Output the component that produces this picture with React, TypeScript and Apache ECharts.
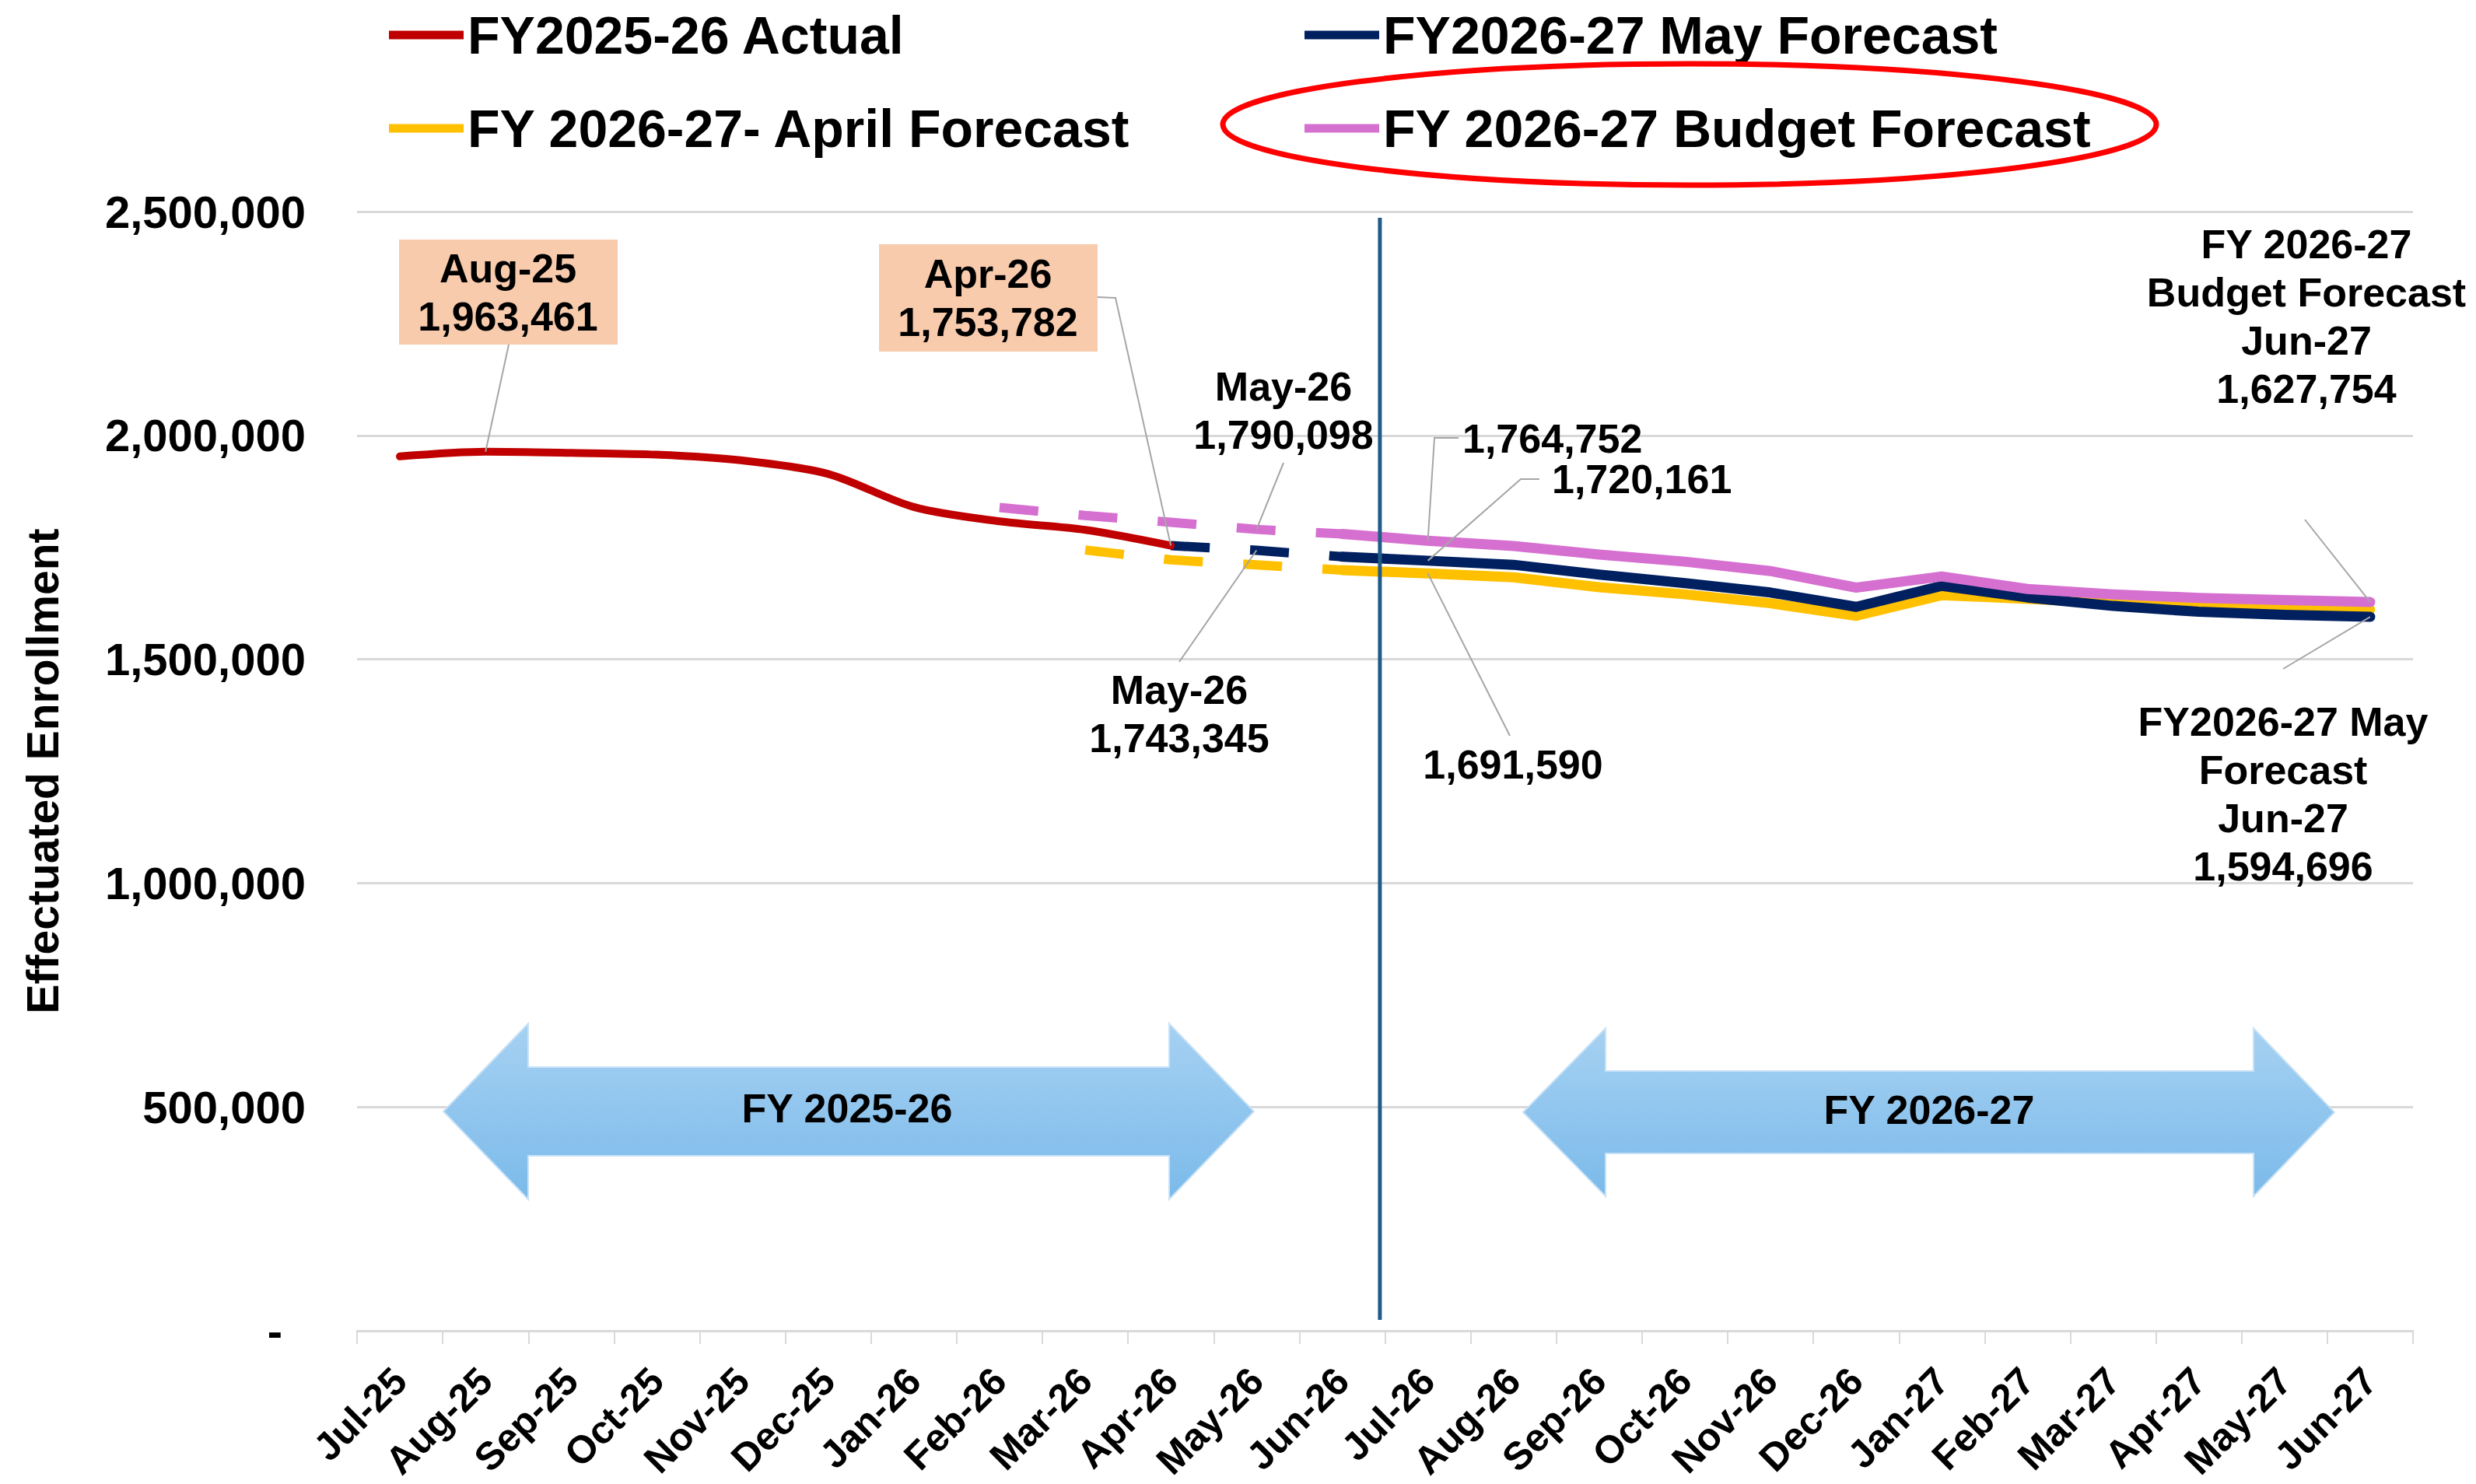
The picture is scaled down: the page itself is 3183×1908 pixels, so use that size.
import React, { useEffect, useRef } from "react";
import * as echarts from "echarts";

const FONT = '"Liberation Sans", Arial, Helvetica, sans-serif';

const categories = [
  "Jul-25", "Aug-25", "Sep-25", "Oct-25", "Nov-25", "Dec-25", "Jan-26", "Feb-26",
  "Mar-26", "Apr-26", "May-26", "Jun-26", "Jul-26", "Aug-26", "Sep-26", "Oct-26",
  "Nov-26", "Dec-26", "Jan-27", "Feb-27", "Mar-27", "Apr-27", "May-27", "Jun-27",
];

const actual = [
  1953000, 1963461, 1961000, 1957000, 1944000, 1914000, 1840000, 1808000,
  1789000, 1753782, null, null, null, null, null, null,
  null, null, null, null, null, null, null, null,
];

const april = [
  null, null, null, null, null, null, null, null,
  1744000, 1722000, 1711000, 1699000, 1691590, 1683000, 1661000, 1645000,
  1625000, 1597000, 1643000, 1635000, 1626000, 1620000, 1615000, 1611000,
];

const may = [
  null, null, null, null, null, null, null, null,
  null, 1753782, 1743345, 1729000, 1720161, 1711000, 1689000, 1670000,
  1649000, 1617000, 1664000, 1638000, 1619000, 1606000, 1599000, 1594696,
];

const budget = [
  null, null, null, null, null, null, null, 1839000,
  1821000, 1806000, 1790098, 1780000, 1764752, 1753000, 1734000, 1718000,
  1697000, 1660000, 1685000, 1657000, 1645000, 1637000, 1632000, 1627754,
];

const yTicks = [0, 500000, 1000000, 1500000, 2000000, 2500000];

const SPLIT = 11; // Jun-26: last projected month, first solid point
const ACT = "FY2025-26 Actual";
const MAYN = "FY2026-27 May Forecast";
const APRN = "FY 2026-27- April Forecast";
const BUDN = "FY 2026-27 Budget Forecast";

const fmt = (v: number) => v.toLocaleString("en-US");
const before = (arr: (number | null)[]) => arr.map((v, i) => (i <= SPLIT ? v : null));
const after = (arr: (number | null)[]) => arr.map((v, i) => (i >= SPLIT ? v : null));

export default function App() {
  const ref = useRef<HTMLDivElement>(null);

  useEffect(() => {
    if (!ref.current) return;
    const chart = echarts.init(ref.current, null, { renderer: "svg" });

    const dashed = (name: string, data: any[], color: string) => ({
      name,
      type: "line",
      data,
      symbol: "none",
      connectNulls: false,
      z: 3,
      itemStyle: { color },
      lineStyle: { color, width: 12, type: [50, 52], cap: "butt" },
    });
    const solid = (name: string, data: any[], color: string) => ({
      name,
      type: "line",
      data,
      symbol: "none",
      connectNulls: false,
      z: 3,
      itemStyle: { color },
      lineStyle: { color, width: 13, cap: "round", join: "round" },
    });

    const legendCommon = {
      orient: "vertical",
      top: 6,
      itemWidth: 96,
      itemHeight: 11,
      itemGap: 52,
      icon: "rect",
      selectedMode: false,
      textStyle: { fontSize: 68, fontWeight: "bold", fontFamily: FONT, color: "#000", lineHeight: 66 },
    };

    chart.setOption({
      animation: false,
      backgroundColor: "#ffffff",
      textStyle: { fontFamily: FONT },
      legend: [
        { ...legendCommon, left: 495, data: [ACT, APRN] },
        { ...legendCommon, left: 1672, data: [MAYN, BUDN] },
      ],
      grid: { left: 459, right: 81, top: 272, bottom: 197, containLabel: false },
      xAxis: {
        type: "category",
        data: categories,
        boundaryGap: true,
        axisLine: { show: true, lineStyle: { color: "#D9D9D9", width: 3 } },
        axisTick: { show: true, length: 17, lineStyle: { color: "#D9D9D9", width: 2 } },
        axisLabel: {
          interval: 0,
          rotate: 45,
          margin: 56,
          fontSize: 50,
          fontWeight: "bold",
          fontFamily: FONT,
          color: "#000",
        },
      },
      yAxis: {
        type: "value",
        min: yTicks[0],
        max: yTicks[yTicks.length - 1],
        interval: 500000,
        name: "Effectuated Enrollment",
        nameLocation: "middle",
        nameRotate: 90,
        nameGap: 376,
        nameTextStyle: { fontSize: 57, fontWeight: "bold", fontFamily: FONT, color: "#000" },
        axisLine: { show: false },
        axisTick: { show: false },
        splitLine: { lineStyle: { color: "#D9D9D9", width: 3 } },
        axisLabel: {
          margin: 66,
          fontSize: 58,
          fontWeight: "bold",
          fontFamily: FONT,
          color: "#000",
          formatter: (v: number) => (v === 0 ? "{z|-}" : fmt(v)),
          rich: {
            z: { fontSize: 58, fontWeight: "bold", fontFamily: FONT, color: "#000", padding: [0, 30, 0, 0] },
          },
        },
      },
      series: [
        {
          name: ACT,
          type: "line",
          data: actual,
          symbol: "none",
          smooth: 0.3,
          z: 4,
          itemStyle: { color: "#C00000" },
          lineStyle: { color: "#C00000", width: 10, cap: "round" },
        },
        dashed(APRN + " projected", before(april), "#FFC000"),
        solid(APRN, after(april), "#FFC000"),
        dashed(MAYN + " projected", before(may), "#002060"),
        solid(MAYN, after(may), "#002060"),
        dashed(BUDN + " projected", before(budget), "#D670D0"),
        solid(BUDN, after(budget), "#D670D0"),
      ],
    });

    const P = (i: number, v: number) =>
      chart.convertToPixel({ gridIndex: 0 }, [i, v]) as number[];

    const txt = (text: string, x: number, y: number, align = "center", size = 52) => ({
      type: "text",
      x,
      y,
      z: 40,
      style: {
        text,
        fill: "#000",
        fontSize: size,
        fontWeight: "bold",
        fontFamily: FONT,
        textAlign: align,
        align,
        textVerticalAlign: "middle",
        verticalAlign: "middle",
        lineHeight: 62,
      },
    });
    const lead = (pts: number[][]) => ({
      type: "polyline",
      z: 35,
      shape: { points: pts },
      style: { stroke: "#A6A6A6", lineWidth: 2, fill: null },
    });
    const box = (x: number, y: number, w: number, h: number) => ({
      type: "rect",
      z: 34,
      shape: { x, y, width: w, height: h },
      style: { fill: "#F8CBAD" },
    });

    const arrow = (xl: number, xb1: number, xb2: number, xr: number, yc: number, hh: number, sh: number) => ({
      type: "polygon",
      z: 20,
      shape: {
        points: [
          [xl, yc],
          [xb1, yc - hh],
          [xb1, yc - sh],
          [xb2, yc - sh],
          [xb2, yc - hh],
          [xr, yc],
          [xb2, yc + hh],
          [xb2, yc + sh],
          [xb1, yc + sh],
          [xb1, yc + hh],
        ],
      },
      style: {
        fill: {
          type: "linear",
          x: 0,
          y: 0,
          x2: 0,
          y2: 1,
          colorStops: [
            { offset: 0, color: "#A6D1F2" },
            { offset: 1, color: "#7BBAEA" },
          ],
        },
        stroke: "#C9E2F6",
        lineWidth: 2,
      },
    });

    const pAug = P(1, actual[1] as number);
    const pApr = P(9, actual[9] as number);
    const pMayB = P(10, budget[10] as number);
    const pMayM = P(10, may[10] as number);
    const pJulB = P(12, budget[12] as number);
    const pJulM = P(12, may[12] as number);
    const pJulA = P(12, april[12] as number);
    const pEndB = P(23, budget[23] as number);
    const pEndM = P(23, may[23] as number);

    const x11 = P(11, 0)[0];
    const x12 = P(12, 0)[0];
    const yTop = P(0, yTicks[yTicks.length - 1])[1];
    const yBot = P(0, 0)[1];
    const xDiv = x11 + 0.44 * (x12 - x11);

    chart.setOption({
      graphic: [
        {
          type: "line",
          z: 30,
          shape: { x1: xDiv, y1: yTop + 8, x2: xDiv, y2: yBot - 14 },
          style: { stroke: "#1F5C87", lineWidth: 5 },
        },
        arrow(570, 679, 1503, 1612, 1429, 113, 57),
        txt("FY 2025-26", 1089, 1425),
        arrow(1958, 2064, 2897, 3001, 1430, 108, 53),
        txt("FY 2026-27", 2480, 1427),

        box(513, 308, 281, 135),
        txt(`${categories[1]}\n${fmt(actual[1] as number)}`, 653, 376),
        lead([[654, 443], pAug]),

        box(1130, 314, 281, 138),
        txt(`${categories[9]}\n${fmt(actual[9] as number)}`, 1270, 383),
        lead([[1411, 382], [1434, 383], pApr]),

        txt(`${categories[10]}\n${fmt(budget[10] as number)}`, 1650, 528),
        lead([[1650, 595], pMayB]),

        txt(`${categories[10]}\n${fmt(may[10] as number)}`, 1516, 918),
        lead([[1516, 851], pMayM]),

        txt(fmt(budget[12] as number), 1880, 564, "left"),
        lead([[1875, 563], [1844, 563], pJulB]),

        txt(fmt(may[12] as number), 1995, 616, "left"),
        lead([[1979, 616], [1955, 616], pJulM]),

        txt(fmt(april[12] as number), 1945, 983),
        lead([[1941, 946], pJulA]),

        txt(`FY 2026-27\nBudget Forecast\n${categories[23]}\n${fmt(budget[23] as number)}`, 2965, 407),
        lead([[2963, 668], pEndB]),

        txt(`FY2026-27 May\nForecast\n${categories[23]}\n${fmt(may[23] as number)}`, 2935, 1021),
        lead([[2935, 860], pEndM]),

        {
          type: "ellipse",
          z: 50,
          shape: { cx: 2172, cy: 160, rx: 600, ry: 78 },
          style: { fill: "none", stroke: "#FF0000", lineWidth: 7 },
        },
      ],
    });

    return () => chart.dispose();
  }, []);

  return (
    <div
      ref={ref}
      style={{ position: "fixed", left: 0, top: 0, width: "3183px", height: "1908px", background: "#fff" }}
    />
  );
}
